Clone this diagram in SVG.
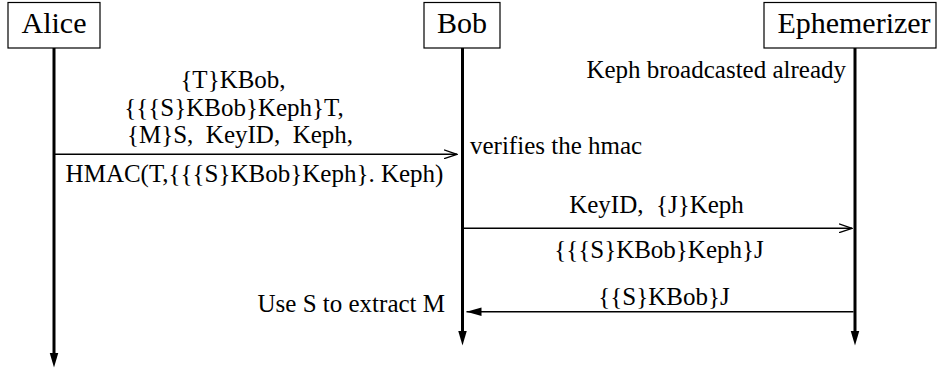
<svg xmlns="http://www.w3.org/2000/svg" width="937" height="374" viewBox="0 0 937 374">
<defs>
<marker id="open" markerWidth="14" markerHeight="10" refX="13" refY="5" orient="auto" markerUnits="userSpaceOnUse">
<path d="M0,0.6 L13,5 L0,9.4" fill="none" stroke="#000" stroke-width="1.3"/>
</marker>
<marker id="filled" markerWidth="16" markerHeight="10" refX="15" refY="5" orient="auto" markerUnits="userSpaceOnUse">
<path d="M0,0.8 L15,5 L0,9.2 Z" fill="#000"/>
</marker>
<marker id="life" markerWidth="16" markerHeight="10" refX="0.5" refY="5" orient="auto" markerUnits="userSpaceOnUse">
<path d="M0,0.6 L15,5 L0,9.4 Z" fill="#000"/>
</marker>
</defs>
<style>
.box{fill:#fff;stroke:#000;stroke-width:1.2}
.name{font-family:"Liberation Serif","Times New Roman",serif;font-size:30px;fill:#000;text-anchor:middle}
.t{font-family:"Liberation Serif","Times New Roman",serif;font-size:25px;fill:#000;white-space:pre}
.mid{text-anchor:middle}
.end{text-anchor:end}
.lifeline{stroke:#000;stroke-width:3;fill:none}
.msg{stroke:#000;stroke-width:1.4;fill:none}
</style>
<rect width="937" height="374" fill="#fff"/>
<g id="alice">
<rect class="box" x="8" y="2.5" width="92" height="45.5"/>
<text class="name" x="54" y="33">Alice</text>
</g>
<g id="bob">
<rect class="box" x="424" y="2.5" width="76" height="45.5"/>
<text class="name" x="462" y="33">Bob</text>
</g>
<g id="ephemerizer">
<rect class="box" x="764" y="2.5" width="172" height="45.5"/>
<text class="name" x="854" y="33">Ephemerizer</text>
</g>
<g id="connectors">
<line class="lifeline" x1="54" y1="48" x2="54" y2="353" marker-end="url(#life)"/>
<line class="lifeline" x1="462.5" y1="48" x2="462.5" y2="331" marker-end="url(#life)"/>
<line class="lifeline" x1="855" y1="48" x2="855" y2="331" marker-end="url(#life)"/>
<line class="msg" x1="54" y1="154.3" x2="457" y2="154.3" marker-end="url(#open)"/>
<line class="msg" x1="464" y1="228.3" x2="852" y2="228.3" marker-end="url(#open)"/>
<line class="msg" x1="853.5" y1="311.7" x2="466.5" y2="311.7" marker-end="url(#filled)"/>
</g>
<g id="labels">
<text class="t mid" x="233" y="88">{T}KBob,</text>
<text class="t mid" x="234" y="116">{{{S}KBob}Keph}T,</text>
<text class="t mid" x="240" y="142.5">{M}S,  KeyID,  Keph,</text>
<text class="t mid" x="254.5" y="181.5">HMAC(T,{{{S}KBob}Keph}. Keph)</text>
<text class="t" x="470" y="154">verifies the hmac</text>
<text class="t end" x="846" y="78.3">Keph broadcasted already</text>
<text class="t mid" x="656.5" y="213.3">KeyID,  {J}Keph</text>
<text class="t mid" x="659" y="258.3">{{{S}KBob}Keph}J</text>
<text class="t mid" x="664" y="305">{{S}KBob}J</text>
<text class="t end" x="445" y="311.7">Use S to extract M</text>
</g>
</svg>
